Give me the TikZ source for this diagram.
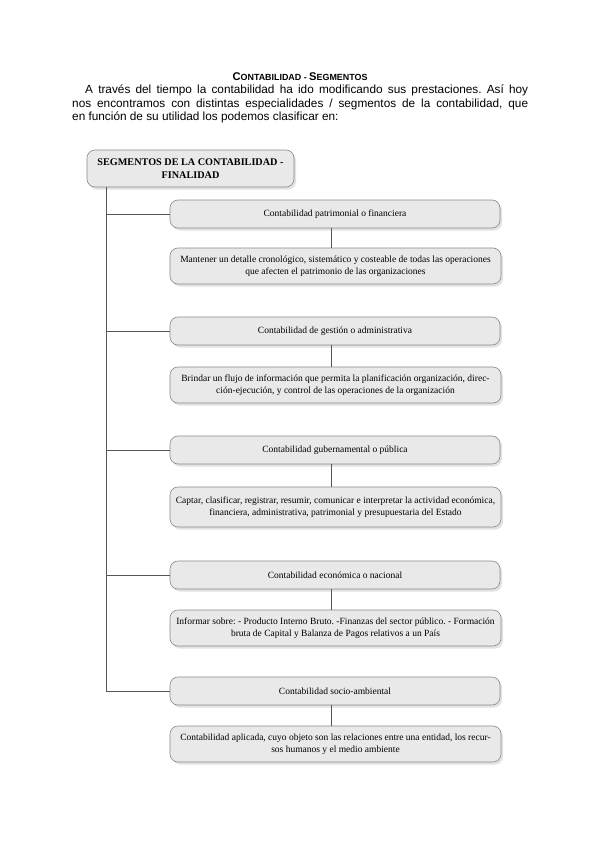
\documentclass[tikz,border=0pt]{standalone}
\usepackage{fontspec}
\setmainfont{Liberation Serif}
\newfontfamily\hdrfont{Liberation Sans}
\usetikzlibrary{shadows}
\definecolor{boxfill}{HTML}{E9E9E9}
\definecolor{boxline}{HTML}{8A8A8A}
\definecolor{linkcol}{HTML}{555555}
\tikzset{
  segbox/.style={draw=boxline, line width=0.6pt, fill=boxfill, rounded corners=8pt,
    drop shadow={shadow xshift=2pt, shadow yshift=-2.5pt, fill=black!22},
    align=center, inner sep=2pt, font=\fontsize{9.5}{12.5}\selectfont},
  topbox/.style={segbox, minimum width=207pt, minimum height=37pt, font=\fontsize{10.2}{13}\selectfont\bfseries},
  catbox/.style={segbox, minimum width=330pt, minimum height=28pt},
  detbox/.style={segbox, minimum width=331pt, minimum height=36pt},
  link/.style={draw=linkcol, line width=0.8pt}
}
\begin{document}
\frenchspacing
\begin{tikzpicture}[x=1pt,y=-1pt]
\useasboundingbox (0,0) rectangle (599,848);
\fill[white] (0,0) rectangle (599,848);
% header
\node[font=\hdrfont\bfseries, inner sep=0pt] (title) at (300,77)
  {{\fontsize{11.2}{12}\selectfont C}{\fontsize{8.9}{12}\selectfont ONTABILIDAD - }{\fontsize{11.2}{12}\selectfont S}{\fontsize{8.9}{12}\selectfont EGMENTOS}};
\node[anchor=north west, inner sep=0pt, text width=456pt, align=justify,
  font=\hdrfont\fontsize{11.8}{13.2}\selectfont] (intro) at (72,85)
  {\hspace*{13pt}A través del tiempo la contabilidad ha ido modificando sus prestaciones. Así hoy\linebreak
   nos encontramos con distintas especialidades / segmentos de la contabilidad, que\linebreak
   en función de su utilidad los podemos clasificar en:};
% top box
\node[topbox] (top) at (190.5,168.5) {SEGMENTOS DE LA CONTABILIDAD -\\FINALIDAD};
% category boxes
\node[catbox] (cat1) at (335,214) {Contabilidad patrimonial o financiera};
\node[detbox] (det1) at (335.5,266) {Mantener un detalle cronológico, sistemático y costeable de todas las operaciones\\que afecten el patrimonio de las organizaciones};
\node[catbox] (cat2) at (335,331) {Contabilidad de gestión o administrativa};
\node[detbox] (det2) at (335.5,385) {Brindar un flujo de información que permita la planificación organización, direc-\\ción-ejecución, y control de las operaciones de la organización};
\node[catbox] (cat3) at (335,450) {Contabilidad gubernamental o pública};
\node[detbox, minimum height=40pt] (det3) at (335.5,507) {Captar, clasificar, registrar, resumir, comunicar e interpretar la actividad económica,\\financiera, administrativa, patrimonial y presupuestaria del Estado};
\node[catbox] (cat4) at (335,575) {Contabilidad económica o nacional};
\node[detbox] (det4) at (335.5,628) {Informar sobre: - Producto Interno Bruto. -Finanzas del sector público. - Formación\\bruta de Capital y Balanza de Pagos relativos a un País};
\node[catbox] (cat5) at (335,691) {Contabilidad socio-ambiental};
\node[detbox] (det5) at (335.5,744) {Contabilidad aplicada, cuyo objeto son las relaciones entre una entidad, los recur-\\sos humanos y el medio ambiente};
% connectors
\coordinate (trunktop) at ([xshift=20pt]top.south west);
\draw[link] (trunktop) |- (cat5.west);
\foreach \c in {cat1,cat2,cat3,cat4}
  \draw[link] (trunktop |- \c.west) -- (\c.west);
\foreach \c/\d in {cat1/det1,cat2/det2,cat3/det3,cat4/det4,cat5/det5}
  \draw[link] ([xshift=-4pt]\c.south) -- ([xshift=-4.5pt]\d.north);
\end{tikzpicture}
\end{document}
